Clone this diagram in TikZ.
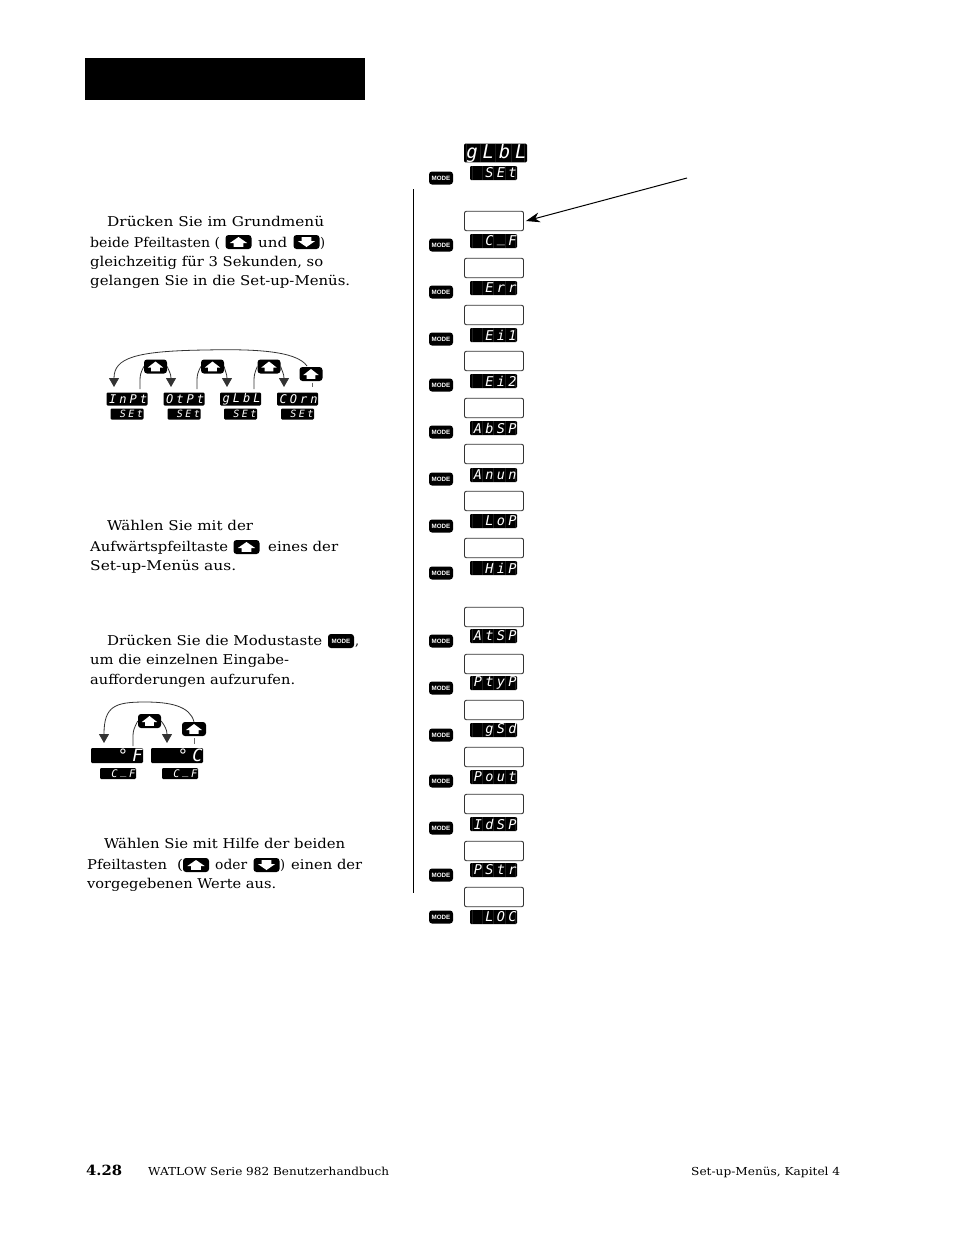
\documentclass[tikz,border=0pt]{standalone}
\usepackage{fontspec}
\usepackage{graphicx}
\usetikzlibrary{arrows.meta}
\setmainfont{DejaVu Serif}
\newfontfamily\segfont[LetterSpace=25]{DejaVu Sans Mono}
\newfontfamily\modefont{Liberation Sans}
\newcommand{\segbar}{\hspace{.25em}\raisebox{.24em}{\_}\hspace{.25em}}
\tikzset{
  txt/.style={anchor=base west,inner sep=0pt,font=\fontsize{13.5}{16}\selectfont,text=black},
  foot/.style={anchor=base west,inner sep=0pt,font=\fontsize{11}{13}\selectfont,text=black},
  lcdbox/.style={fill=black,rounded corners=1.2pt,inner sep=0pt,text=white},
  lcdsep/.style={draw=black!88,line width=0.3pt},
  keybox/.style={fill=black,rounded corners=3pt,inner sep=0pt},
  modebox/.style={fill=black,rounded corners=3pt,inner sep=0pt,text=white,font=\modefont\bfseries\fontsize{6.2}{7}\selectfont},
  emptybox/.style={draw=black!80,line width=0.9pt,rounded corners=2pt,fill=white,minimum width=59pt,minimum height=19.5pt,inner sep=0pt},
  conn/.style={draw=black!80,line width=0.8pt},
  tiparrow/.style={conn,-{Triangle[length=9pt,width=10pt]}},
  tick/.style={draw=black!60,line width=0.8pt},
}
% name, cx, cy, w, h, font size, text
\newcommand{\lcd}[7]{%
  \node[lcdbox,minimum width=#4pt,minimum height=#5pt,font=\segfont\itshape\fontsize{#6}{#6}\selectfont] (#1) at (#2,#3) {\makebox[\dimexpr#4pt-1pt\relax][r]{#7}};
}
% same, with the dividers between the digit cells
\newcommand{\lcdd}[7]{%
  \node[lcdbox,minimum width=#4pt,minimum height=#5pt,font=\segfont\itshape\fontsize{#6}{#6}\selectfont,
    path picture={\foreach \d in {-0.46,-0.25,0,0.25,0.46}{\draw[lcdsep] ([xshift=\d*#4pt]path picture bounding box.north) -- ([xshift=\d*#4pt]path picture bounding box.south);}}] (#1) at (#2,#3) {\makebox[\dimexpr#4pt-1pt\relax][r]{#7}};
}
% name, cx, cy, w, h, direction (1 up, -1 down)
\newcommand{\keyb}[6]{%
  \node[keybox,minimum width=#4pt,minimum height=#5pt] (#1) at (#2,#3) {};
  \begin{scope}[shift={(#1.center)},xscale={#4/24},yscale={#6*#5/14}]
    \fill[white] (0,-5) -- (8,1) -- (4.6,1) -- (4.6,4.8) -- (-4.6,4.8) -- (-4.6,1) -- (-8,1) -- cycle;
  \end{scope}
}
% name, x, baseline y, width, text
\newcommand{\tl}[5]{\node[txt] (#1) at (#2,#3) {\resizebox{#4pt}{\height}{#5}};}
\newcommand{\fl}[5]{\node[foot] (#1) at (#2,#3) {\resizebox{#4pt}{\height}{#5}};}
\begin{document}
\begin{tikzpicture}[x=1pt,y=-1pt]
\useasboundingbox (0,0) rectangle (954,1235);
\fill[white] (0,0) rectangle (954,1235);
\node[fill=black,minimum width=280pt,minimum height=42pt,inner sep=0pt] (head) at (225,79) {};

% paragraph 1
\tl{p1a}{107}{226}{217}{Drücken Sie im Grundmenü}
\tl{p1b}{90}{247}{130}{beide Pfeiltasten (}
\keyb{p1k}{238.5}{242}{26}{14}{1}
\tl{p1c}{258}{247}{29}{und}
\keyb{p1l}{306.5}{242}{26}{14}{-1}
\tl{p1d}{320}{247}{5}{)}
\tl{p1e}{90}{266}{233}{gleichzeitig für 3 Sekunden, so}
\tl{p1f}{90}{285}{260}{gelangen Sie in die Set-up-Menüs.}

% paragraph 2
\tl{p2a}{107}{530}{146}{Wählen Sie mit der}
\tl{p2b}{90}{551}{138}{Aufwärtspfeiltaste}
\keyb{p2k}{246.5}{547}{26}{14}{1}
\tl{p2c}{268}{551}{70}{eines der}
\tl{p2d}{90}{570}{146}{Set-up-Menüs aus.}

% paragraph 3
\tl{p3a}{107}{645}{215}{Drücken Sie die Modustaste}
\node[modebox,minimum width=26pt,minimum height=14pt] (p3k) at (341,641) {MODE};
\tl{p3b}{355}{645}{4}{,}
\tl{p3c}{90}{664}{199}{um die einzelnen Eingabe-}
\tl{p3d}{90}{684}{205}{aufforderungen aufzurufen.}

% paragraph 4
\tl{p4a}{104}{848}{241}{Wählen Sie mit Hilfe der beiden}
\tl{p4b}{87}{869}{80}{Pfeiltasten}
\tl{p4c}{177}{869}{6}{(}
\keyb{p4k}{196}{865}{26}{14}{1}
\tl{p4d}{215}{869}{32}{oder}
\keyb{p4l}{266.5}{865}{26}{14}{-1}
\tl{p4e}{280}{869}{5}{)}
\tl{p4f}{291}{869}{71}{einen der}
\tl{p4g}{87}{888}{189}{vorgegebenen Werte aus.}

% footer
\node[foot,font=\bfseries\fontsize{14}{16}\selectfont] (fa) at (86,1175) {\resizebox{36pt}{\height}{4.28}};
\fl{fb}{148}{1175}{241}{WATLOW Serie 982 Benutzerhandbuch}
\fl{fc}{691}{1175}{149}{Set-up-Menüs, Kapitel 4}

% menu cycle
\foreach \n/\cx/\t in {a/127/InPt,b/184/OtPt,c/240.5/gLbL,d/297.5/COrn}{
  \lcd{m\n}{\cx}{399}{41}{13}{12}{\t}
  \lcd{s\n}{\cx}{414}{33}{11}{10}{SEt}
}
\keyb{ku1}{155.5}{366.5}{23}{14}{1}
\keyb{ku2}{212.5}{366.5}{23}{14}{1}
\keyb{ku3}{269}{366.5}{23}{14}{1}
\keyb{ku4}{311}{374}{23}{14}{1}
\coordinate (ta) at (114,387);
\coordinate (tb) at (171,387);
\coordinate (tc) at (227,387);
\coordinate (td) at (284,387);
\coordinate (fa1) at (140,389);
\coordinate (fb1) at (197,389);
\coordinate (fc1) at (254,389);
\coordinate (te) at (312,387);
\draw[tiparrow] (307,366) .. controls (296,350) and (250,349) .. (205,350) .. controls (135,351) and (114,358) .. (ta);
\draw[conn] (fa1) -- (140,380) .. controls (140,375) and (141,372) .. (ku1.west);
\draw[conn] (fb1) -- (197,380) .. controls (197,375) and (198,372) .. (ku2.west);
\draw[conn] (fc1) -- (254,380) .. controls (254,375) and (255,372) .. (ku3.west);
\draw[tiparrow] (ku1.east) .. controls (169,371) and (171,374) .. (tb);
\draw[tiparrow] (ku2.east) .. controls (225,371) and (227,374) .. (tc);
\draw[tiparrow] (ku3.east) .. controls (282,371) and (284,374) .. (td);
\draw[tick] (312,382.5) -- (te);

% C_F cycle
\lcd{oa}{117}{755.5}{52}{15}{17}{°F}
\lcd{ob}{177}{755.5}{52}{15}{17}{°C}
\lcd{oc}{118}{773.5}{36}{11}{10.5}{C\segbar F}
\lcd{od}{180}{773.5}{36}{11}{10.5}{C\segbar F}
\keyb{ok1}{149.5}{721}{23}{14}{1}
\keyb{ok2}{194}{729}{24}{14}{1}
\coordinate (ot1) at (104,743);
\coordinate (ot2) at (167,743);
\coordinate (of1) at (133,746);
\coordinate (ot3) at (194,744);
\draw[tiparrow] (ok2.north) .. controls (190,706) and (170,702) .. (145,702) .. controls (115,702) and (104,706) .. (ot1);
\draw[conn] (of1) -- (133,736) .. controls (133,731) and (134,728) .. (ok1.west);
\draw[tiparrow] (ok1.east) .. controls (165,726) and (167,730) .. (ot2);
\draw[tick] (194,738) -- (ot3);

% main column
\coordinate (va) at (413.5,189);
\coordinate (vb) at (413.5,893);
\draw[draw=black,line width=0.9pt] (va) -- (vb);
\lcdd{topa}{495.5}{153}{63}{18}{19}{gLbL}
\lcdd{topb}{493.5}{173}{47}{14}{13.5}{SEt}
\node[modebox,minimum width=24pt,minimum height=13pt] (topm) at (441,178) {MODE};
\foreach \i/\yb/\yl/\ym/\t in {
  1/221/241/245/C\segbar F, 2/268/288/292/Err, 3/315/335/339/Ei1, 4/361/381/385/Ei2,
  5/408/428/432/AbSP, 6/454/475/479/Anun, 7/501/521/526/LoP, 8/548/568/573/HiP,
  9/617/636/641/AtSP, 10/664/683/688/PtyP, 11/710/730/735/gSd, 12/757/777/781/Pout,
  13/804/824/828/IdSP, 14/851/870/875/PStr, 15/897/917/917/LOC}{
  \node[emptybox] (b\i) at (494,\yb) {};
  \lcdd{l\i}{493.5}{\yl}{47}{14}{13.5}{\t}
  \node[modebox,minimum width=24pt,minimum height=13pt] (k\i) at (441,\ym) {MODE};
}
\coordinate (as) at (687,178);
\draw[draw=black,line width=1pt,-{Stealth[length=14pt,width=10pt]}] (as) -- ([xshift=2pt]b1.east);
\end{tikzpicture}
\end{document}
